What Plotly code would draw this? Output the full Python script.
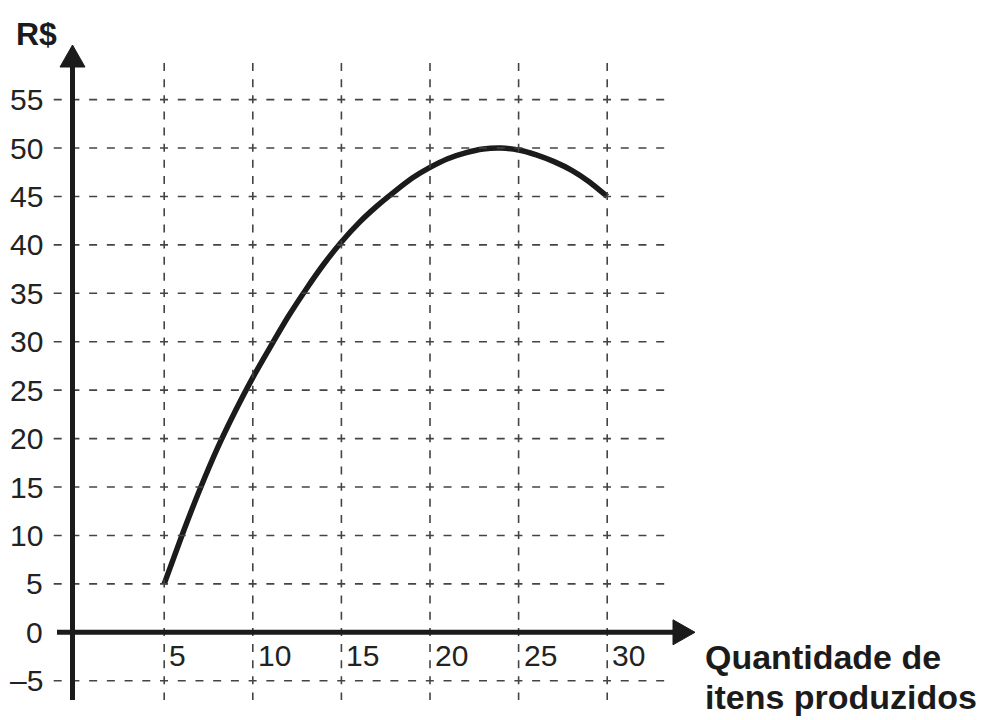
import plotly.graph_objects as go

# ---- data ----
itens = [5, 6, 7, 8, 9, 10, 11, 12, 13, 14, 15, 16, 17, 18, 19, 20,
         21, 22, 23, 24, 25, 26, 27, 28, 29, 30]
reais = [5.0, 10.0, 14.7, 19.0, 22.8, 26.3, 29.5, 32.6, 35.4, 38.0, 40.3, 42.3,
         44.0, 45.5, 46.9, 48.0, 48.9, 49.5, 49.9, 50.0, 49.8, 49.3, 48.6,
         47.7, 46.5, 45.0]
x_ticks = [5, 10, 15, 20, 25, 30]
x_tick_labels = ["5", "10", "15", "20", "25", "30"]
y_ticks = [-5, 0, 5, 10, 15, 20, 25, 30, 35, 40, 45, 50, 55]
y_tick_labels = ["\u20135", "0", "5", "10", "15", "20", "25", "30", "35",
                 "40", "45", "50", "55"]
y_grid = [-5, 5, 10, 15, 20, 25, 30, 35, 40, 45, 50, 55]

W, H = 989, 720
# pixel scale of the axes
X0PX, XS = 75.6, 17.72
Y0PX, YS = 632.3, 9.685


def dx(px):
    return (px - X0PX) / XS


def dy(py):
    return (Y0PX - py) / YS


INK = "#1b1b1b"
GRID = "#444444"
FONT = "Liberation Sans, Arial, sans-serif"

fig = go.Figure()

shapes = []
# dashed grid
for xv in x_ticks:
    shapes.append(dict(type="line", xref="x", yref="y", x0=xv, x1=xv,
                       y0=dy(63), y1=dy(700),
                       line=dict(color=GRID, width=1.6, dash="8px,8.14px")))
for yv in y_grid:
    shapes.append(dict(type="line", xref="x", yref="y", x0=dx(53.7), x1=dx(671),
                       y0=yv, y1=yv,
                       line=dict(color=GRID, width=1.6, dash="8px,9.72px")))

AX_X = dx(72.5)
# axes lines
shapes.append(dict(type="line", xref="x", yref="y", x0=AX_X, x1=AX_X,
                   y0=dy(700), y1=dy(66), line=dict(color=INK, width=5)))
shapes.append(dict(type="line", xref="x", yref="y", x0=dx(57), x1=dx(674),
                   y0=0, y1=0, line=dict(color=INK, width=5)))
# arrow heads
hw = 12.5 / XS
shapes.append(dict(type="path", xref="x", yref="y",
                   path=f"M {AX_X - hw},{dy(67)} L {AX_X + hw},{dy(67)} L {AX_X},{dy(45)} Z",
                   fillcolor=INK, line=dict(color=INK, width=1)))
hh = 12.5 / YS
shapes.append(dict(type="path", xref="x", yref="y",
                   path=f"M {dx(673)},{hh} L {dx(673)},{-hh} L {dx(695)},0 Z",
                   fillcolor=INK, line=dict(color=INK, width=1)))

fig.add_trace(go.Scatter(x=itens, y=reais, mode="lines",
                         line=dict(color=INK, width=5.5, shape="spline", smoothing=0.6),
                         hoverinfo="skip", showlegend=False))

annotations = []
for yv, lab in zip(y_ticks, y_tick_labels):
    annotations.append(dict(x=dx(45), y=yv, xref="x", yref="y", text=lab,
                            showarrow=False, xanchor="right", yanchor="middle",
                            font=dict(family=FONT, size=30, color="#222222")))
for xv, lab in zip(x_ticks, x_tick_labels):
    annotations.append(dict(x=xv, y=dy(655), xref="x", yref="y", text=lab,
                            showarrow=False, xanchor="left", yanchor="middle",
                            xshift=3,
                            font=dict(family=FONT, size=30, color="#222222")))
annotations.append(dict(x=dx(36.5), y=dy(34), xref="x", yref="y", text="<b>R$</b>",
                        showarrow=False, xanchor="center", yanchor="middle",
                        font=dict(family=FONT, size=32, color=INK)))
annotations.append(dict(x=dx(703), y=dy(657), xref="x", yref="y",
                        text="<b>Quantidade de</b>",
                        showarrow=False, xanchor="left", yanchor="middle",
                        font=dict(family=FONT, size=34, color=INK)))
annotations.append(dict(x=dx(703), y=dy(697), xref="x", yref="y",
                        text="<b>itens produzidos</b>",
                        showarrow=False, xanchor="left", yanchor="middle",
                        font=dict(family=FONT, size=34, color=INK)))

fig.update_layout(
    width=W, height=H,
    margin=dict(l=0, r=0, t=0, b=0),
    paper_bgcolor="white", plot_bgcolor="white",
    shapes=shapes, annotations=annotations,
    xaxis=dict(range=[dx(0), dx(W)], visible=False, fixedrange=True),
    yaxis=dict(range=[dy(H), dy(0)], visible=False, fixedrange=True),
    showlegend=False,
)

fig.write_html(
    "out.html",
    config={"displayModeBar": False},
    post_script="document.body.style.margin='0';document.body.style.overflow='hidden';",
)
